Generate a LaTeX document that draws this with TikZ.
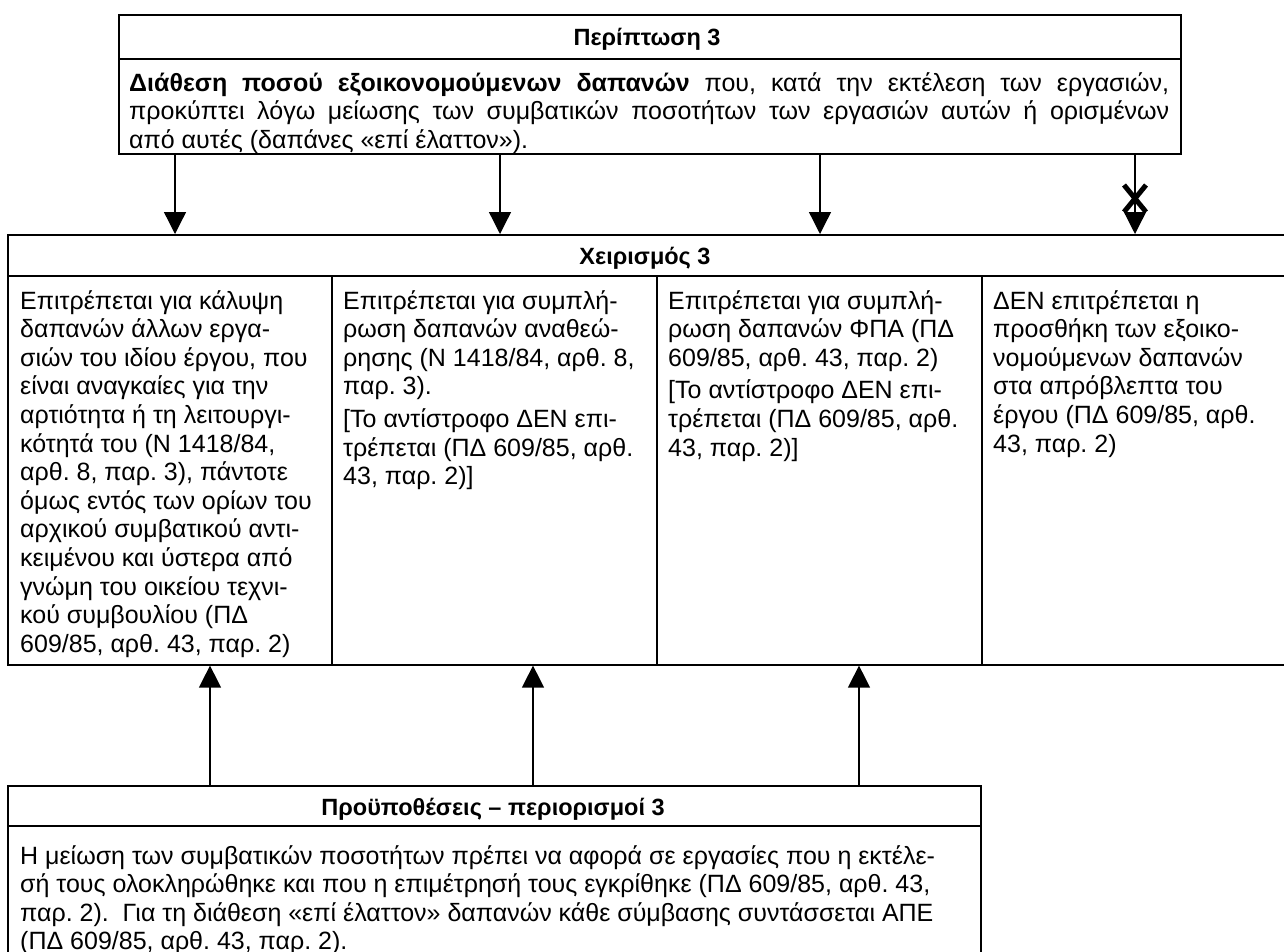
\documentclass[tikz,border=0pt]{standalone}
\usepackage{fontspec}
\setmainfont{Liberation Sans}
\usetikzlibrary{arrows.meta}
\newcommand\mybody{\fontsize{25}{28.6}\selectfont\frenchspacing}
\newcommand\mytitle{\fontsize{23.5}{28.6}\selectfont\bfseries}
\tikzset{
  box/.style={draw, line width=1.6pt, rectangle, inner sep=0pt, anchor=north west},
  rule/.style={line width=1.6pt},
  arr/.style={line width=1.3pt, -{Triangle[width=22pt,length=22pt]}},
  txt/.style={inner sep=0pt, anchor=base west, font=\mybody},
  ttl/.style={inner sep=0pt, anchor=base, font=\mytitle},
  xmark/.style={line width=5pt},
}
\begin{document}
\begin{tikzpicture}[x=1pt,y=-1pt]
\useasboundingbox (0,0) rectangle (1284,951);
\clip (0,0) rectangle (1284,951);
% boxes
\node[box, minimum width=1062pt, minimum height=139pt] (top) at (118,14) {};
\node[box, minimum width=1278pt, minimum height=430pt] (mid) at (7,234) {};
\node[box, minimum width=973pt, minimum height=200pt] (bot) at (7,785) {};
% internal rules
\draw[rule] (118,59) -- (1180,59);
\draw[rule] (7,276) -- (1285,276);
\draw[rule] (332,276) -- (332,664);
\draw[rule] (657,276) -- (657,664);
\draw[rule] (982,276) -- (982,664);
\draw[rule] (7,826) -- (980,826);
% titles
\node[ttl] (t1) at (647,45) {Περίπτωση 3};
\node[ttl] (t2) at (645,264) {Χειρισμός 3};
\node[ttl] (t3) at (493,815) {Προϋποθέσεις – περιορισμοί 3};
% top text
\node[txt] (toptext) at (129,91) {\parbox[t]{1040pt}{%
\makebox[1040pt][s]{\textbf{Διάθεση ποσού εξοικονομούμενων δαπανών} που, κατά την εκτέλεση των εργασιών,}\\
\makebox[1040pt][s]{προκύπτει λόγω μείωσης των συμβατικών ποσοτήτων των εργασιών αυτών ή ορισμένων}\\
από αυτές (δαπάνες «επί έλαττον»).}};
% columns
\node[txt] (c1) at (20,309) {\parbox[t]{310pt}{\raggedright
Επιτρέπεται για κάλυψη\\
δαπανών άλλων εργα-\\
σιών του ιδίου έργου, που\\
είναι αναγκαίες για την\\
αρτιότητα ή τη λειτουργι-\\
κότητά του (Ν 1418/84,\\
αρθ. 8, παρ. 3), πάντοτε\\
όμως εντός των ορίων του\\
αρχικού συμβατικού αντι-\\
κειμένου και ύστερα από\\
γνώμη του οικείου τεχνι-\\
κού συμβουλίου (ΠΔ\\
609/85, αρθ. 43, παρ. 2)}};
\node[txt] (c2) at (343,309) {\parbox[t]{310pt}{\raggedright
Επιτρέπεται για συμπλή-\\
ρωση δαπανών αναθεώ-\\
ρησης (Ν 1418/84, αρθ. 8,\\
παρ. 3).\\[4pt]
[Το αντίστροφο ΔΕΝ επι-\\
τρέπεται (ΠΔ 609/85, αρθ.\\
43, παρ. 2)]}};
\node[txt] (c3) at (668,309) {\parbox[t]{310pt}{\raggedright
Επιτρέπεται για συμπλή-\\
ρωση δαπανών ΦΠΑ (ΠΔ\\
609/85, αρθ. 43, παρ. 2)\\[4pt]
[Το αντίστροφο ΔΕΝ επι-\\
τρέπεται (ΠΔ 609/85, αρθ.\\
43, παρ. 2)]}};
\node[txt] (c4) at (993,309) {\parbox[t]{285pt}{\raggedright
ΔΕΝ επιτρέπεται η\\
προσθήκη των εξοικο-\\
νομούμενων δαπανών\\
στα απρόβλεπτα του\\
έργου (ΠΔ 609/85, αρθ.\\
43, παρ. 2)}};
% bottom text
\node[txt] (bt) at (20,864) {\parbox[t]{950pt}{\raggedright
Η μείωση των συμβατικών ποσοτήτων πρέπει να αφορά σε εργασίες που η εκτέλε-\\
σή τους ολοκληρώθηκε και που η επιμέτρησή τους εγκρίθηκε (ΠΔ 609/85, αρθ. 43,\\
παρ. 2).\ \ Για τη διάθεση «επί έλαττον» δαπανών κάθε σύμβασης συντάσσεται ΑΠΕ\\
(ΠΔ 609/85, αρθ. 43, παρ. 2).}};
% arrow columns
\coordinate (d1) at (175,0);
\coordinate (d2) at (500,0);
\coordinate (d3) at (820,0);
\coordinate (d4) at (1135,0);
\coordinate (u1) at (210,0);
\coordinate (u2) at (533,0);
\coordinate (u3) at (859,0);
\draw[arr] (top.south -| d1) -- (mid.north -| d1);
\draw[arr] (top.south -| d2) -- (mid.north -| d2);
\draw[arr] (top.south -| d3) -- (mid.north -| d3);
\draw[arr] (top.south -| d4) -- (mid.north -| d4);
\draw[xmark] (1124,185) -- (1146,212) (1146,185) -- (1124,212);
\draw[arr] (bot.north -| u1) -- (mid.south -| u1);
\draw[arr] (bot.north -| u2) -- (mid.south -| u2);
\draw[arr] (bot.north -| u3) -- (mid.south -| u3);
\end{tikzpicture}
\end{document}
